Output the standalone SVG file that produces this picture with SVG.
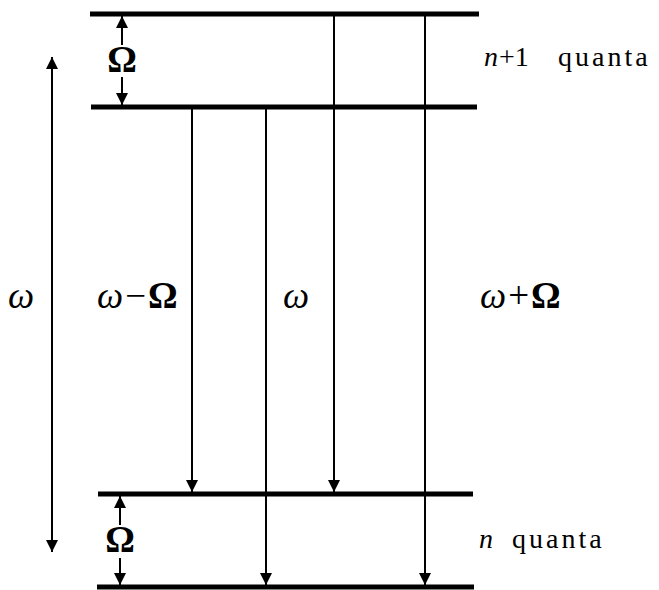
<svg xmlns="http://www.w3.org/2000/svg" width="659" height="590" viewBox="0 0 659 590">
<style>
.lvl{stroke:#000;stroke-width:5;fill:none}
.arr{stroke:#000;stroke-width:2;fill:none}
.t{font-family:"Liberation Serif","Times New Roman",serif;font-size:37px;fill:#000}
.i{font-style:italic}
.b{font-weight:bold}
.q{font-family:"Liberation Serif","Times New Roman",serif;font-size:28px;fill:#000}
.sp{letter-spacing:3px}
</style>
<defs>
<marker id="ah" viewBox="0 0 10 10" refX="10" refY="5" markerWidth="14" markerHeight="12" markerUnits="userSpaceOnUse" orient="auto">
<path d="M0,0 L10,5 L0,10 Z" fill="#000"/>
</marker>
</defs>
<g id="levels">
<g id="level-n1-top"><line class="lvl" x1="90" y1="14" x2="479" y2="14"/></g>
<g id="level-n1-bottom"><line class="lvl" x1="91" y1="107" x2="477" y2="107"/></g>
<g id="level-n-top"><line class="lvl" x1="98" y1="494" x2="473" y2="494"/></g>
<g id="level-n-bottom"><line class="lvl" x1="97" y1="587" x2="474" y2="587"/></g>
</g>
<g id="connectors">
<line class="arr" x1="192" y1="109" x2="192" y2="492" marker-end="url(#ah)"/>
<line class="arr" x1="266" y1="109" x2="266" y2="585" marker-end="url(#ah)"/>
<line class="arr" x1="334" y1="16" x2="334" y2="492" marker-end="url(#ah)"/>
<line class="arr" x1="425" y1="16" x2="425" y2="585" marker-end="url(#ah)"/>
<line class="arr" x1="52" y1="300" x2="52" y2="57" marker-end="url(#ah)"/>
<line class="arr" x1="52" y1="300" x2="52" y2="552" marker-end="url(#ah)"/>
<line class="arr" x1="122" y1="45" x2="122" y2="16" marker-end="url(#ah)"/>
<line class="arr" x1="122" y1="77" x2="122" y2="105" marker-end="url(#ah)"/>
<line class="arr" x1="120" y1="525" x2="120" y2="496" marker-end="url(#ah)"/>
<line class="arr" x1="120" y1="558" x2="120" y2="585" marker-end="url(#ah)"/>
</g>
<g id="labels">
<text class="t b" x="122" y="72" text-anchor="middle" font-size="30">Ω</text>
<text class="t b" x="120" y="552" text-anchor="middle" font-size="30">Ω</text>
<text class="t i" x="8" y="308">ω</text>
<text class="t" x="97" y="308"><tspan class="i">ω</tspan><tspan dx="2">−</tspan><tspan class="b" dx="2">Ω</tspan></text>
<text class="t i" x="283" y="308">ω</text>
<text class="t" x="480" y="308"><tspan class="i">ω</tspan><tspan dx="2">+</tspan><tspan class="b" dx="2">Ω</tspan></text>
<text class="q" y="66"><tspan x="484" font-style="italic">n</tspan><tspan x="499">+1</tspan><tspan x="558" class="sp">quanta</tspan></text>
<text class="q" y="548"><tspan x="479" font-style="italic">n</tspan><tspan x="512" class="sp">quanta</tspan></text>
</g>
</svg>
